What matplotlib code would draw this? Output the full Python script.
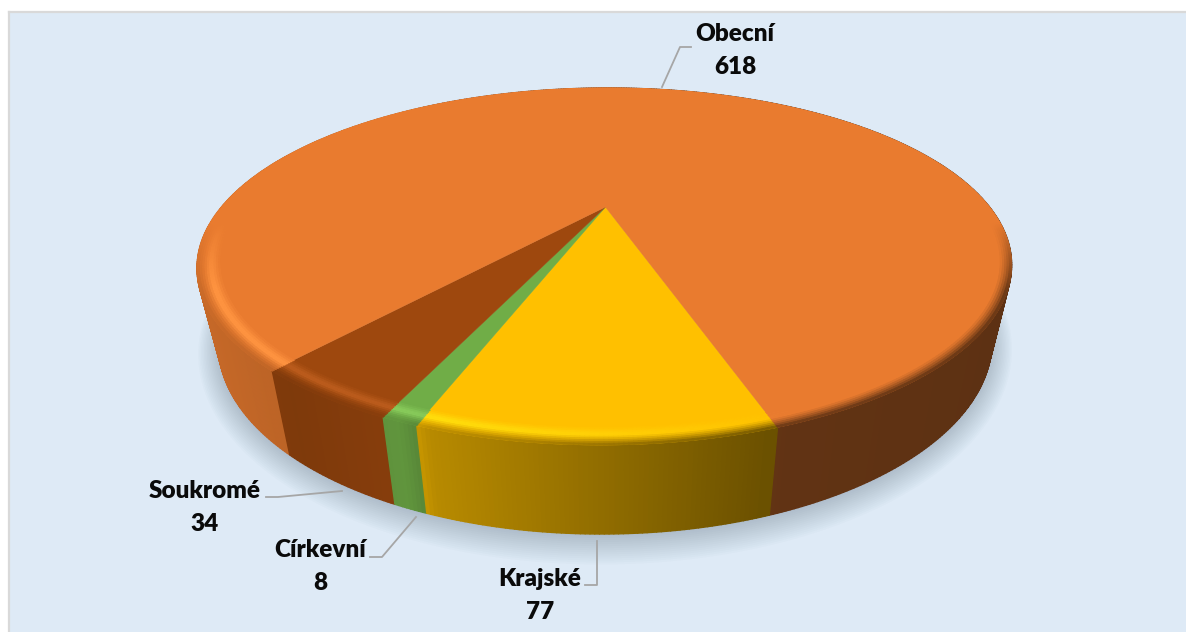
import numpy as np
import matplotlib
matplotlib.use("Agg")
import matplotlib.pyplot as plt
from matplotlib.collections import PolyCollection
from matplotlib.colors import to_rgb

# clockwise from the right edge of the yellow slice
names = ["Krajské", "Církevní", "Soukromé", "Obecní"]
values = [77, 8, 34, 618]
colors = ["#FFC000", "#70AD47", "#9E480E", "#E97B2F"]

label_x = [540, 320, 205, 735]
label_y = [578, 549, 490, 33]
leaders = [
    [(585, 585), (597, 585), (597, 541)],
    [(370, 557), (382, 557), (416, 517)],
    [(266, 497), (278, 497), (342, 491)],
    [(691, 47), (680, 47), (662, 87)],
]

start_angle = -18.3
k = 1 / 3
BG = "#DEEAF6"


def top_xy(phi, r=1.0):
    u = -np.sin(phi) * r
    v = np.cos(phi) * r
    y = 207 + 158.7 * v / (1 - k * v)
    x = 605.5 + 384 * u / (1 - k * v) - 0.02 * (y - 207)
    return x, y


def bottom_xy(phi, grow=0.0):
    u = -np.sin(phi)
    v = np.cos(phi)
    y = 279 + (170 + grow) * v / (1 - k * v)
    x = 606.5 + (364.6 + grow) * u / (1 - k * v) - 0.02 * (y - 279)
    return x, y


def side_factor(x):
    return np.interp(x, [200, 290, 400, 430, 768, 1000], [.85, .80, .86, .72, .42, .40])


fig = plt.figure(figsize=(11.86, 6.32), dpi=100, facecolor="white")
ax = fig.add_axes([0, 0, 1, 1])
ax.set_xlim(0, 1186)
ax.set_ylim(632, 0)
ax.axis("off")

# chart area with the grey frame on the left and top
ax.fill([9, 1186, 1186, 9], [12, 12, 632, 632], color=BG, lw=0, zorder=0)
ax.plot([9, 9], [632, 12], color="#D9D9D9", lw=1.6, zorder=1)
ax.plot([9, 1186], [12, 12], color="#D9D9D9", lw=1.6, zorder=1)

# soft shadow under the pie
circle = np.linspace(0, 2 * np.pi, 361)
for g in np.linspace(19, 0, 15):
    sx, sy = bottom_xy(circle, g)
    ax.fill(sx, sy + 2, color="#40566E", alpha=0.02, lw=0, zorder=2)

# slice edges from the values
total = sum(values)
edges = np.radians(start_angle + np.cumsum([0] + values) / total * 360)
phi = np.linspace(edges[0], edges[-1], 721)
mids = (phi[:-1] + phi[1:]) / 2
slice_idx = np.clip(np.searchsorted(edges, mids) - 1, 0, len(values) - 1)
rgb = np.array([to_rgb(c) for c in colors])

# side wall, painted back to front
x0, y0 = top_xy(phi)
x1, y1 = bottom_xy(phi)
quads = np.stack([np.c_[x0[:-1], y0[:-1]], np.c_[x0[1:], y0[1:]],
                  np.c_[x1[1:], y1[1:]], np.c_[x1[:-1], y1[:-1]]], axis=1)
side_cols = rgb[slice_idx] * side_factor((x0[:-1] + x0[1:]) / 2)[:, None]
order = np.argsort(np.cos(mids))
ax.add_collection(PolyCollection(quads[order], facecolors=side_cols[order],
                                 edgecolors=side_cols[order], linewidths=1.0, zorder=3))

# top face
for i in range(len(values)):
    p = np.linspace(edges[i], edges[i + 1], 300)
    tx, ty = top_xy(p)
    ax.fill(np.r_[top_xy(0.0, 0.0)[0], tx], np.r_[top_xy(0.0, 0.0)[1], ty],
            color=colors[i], lw=0.3, zorder=4)

# rounded bevel along the rim
rings = np.linspace(0.95, 1.0, 11)
bevel_quads = []
bevel_cols = []
for a, b in zip(rings[:-1], rings[1:]):
    t = ((a + b) / 2 - rings[0]) / (rings[-1] - rings[0])
    xa, ya = top_xy(phi, a)
    xb, yb = top_xy(phi, b)
    q = np.stack([np.c_[xa[:-1], ya[:-1]], np.c_[xa[1:], ya[1:]],
                  np.c_[xb[1:], yb[1:]], np.c_[xb[:-1], yb[:-1]]], axis=1)
    mx = (xa[:-1] + xa[1:]) / 2
    base = rgb[slice_idx]
    side = base * side_factor(mx)[:, None]
    light = np.clip((800 - mx) / 400, 0, 1)
    front = np.clip((np.cos(mids) - 0.1) / 0.35, 0, 1)
    hi = light[:, None] * front[:, None] * np.exp(-((t - 0.4) / 0.28) ** 2)
    c = base + (np.minimum(base * 1.1 + 0.05, 1) - base) * hi
    dark = np.clip((t - 0.45) / 0.55, 0, 1) ** 1.3
    c = c + (side - c) * (dark * front)[:, None]
    bevel_quads.append(q)
    bevel_cols.append(c)
bevel_quads = np.concatenate(bevel_quads)
bevel_cols = np.concatenate(bevel_cols)
ax.add_collection(PolyCollection(bevel_quads, facecolors=bevel_cols,
                                 edgecolors=bevel_cols, linewidths=0.6, zorder=5))

# leader lines and labels
for line in leaders:
    ax.plot([p[0] for p in line], [p[1] for p in line], color="#A6A6A6", lw=1.3, zorder=6)
for name, val, lx, ly in zip(names, values, label_x, label_y):
    ax.text(lx, ly + 1, name, ha="center", va="center", family="Lato", weight="heavy",
            fontsize=17.5, color="#0A0A0A", zorder=7)
    ax.text(lx, ly + 34, str(val), ha="center", va="center", family="Lato", weight="heavy",
            fontsize=17.5, color="#0A0A0A", zorder=7)

fig.savefig("out.png", dpi=100, facecolor="white")
